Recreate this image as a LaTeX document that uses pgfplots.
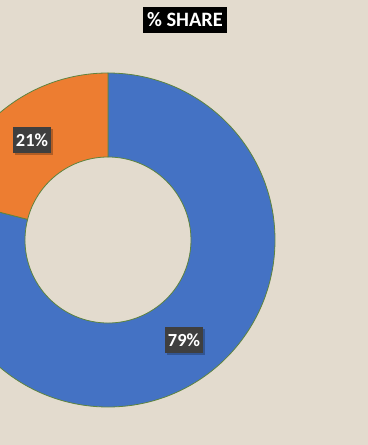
\documentclass[border=0pt]{standalone}
\usepackage{fontspec}
\setmainfont{Carlito}
\usepackage{pgfplots}
\usepackage{pgfplotstable}
\pgfplotsset{compat=1.18}
\usetikzlibrary{calc}
\definecolor{bg}{HTML}{E3DBCE}
\definecolor{sblue}{HTML}{4472C4}
\definecolor{sorange}{HTML}{ED7D31}
\definecolor{sedge}{HTML}{5E8440}
\definecolor{lbl}{HTML}{3F3F3F}
\pgfplotstableread{
name value
B 79
A 21
}\sharedata
\pgfplotstablegetelem{0}{value}\of\sharedata \let\vA\pgfplotsretval
\pgfplotstablegetelem{1}{value}\of\sharedata \let\vB\pgfplotsretval
\pgfmathsetmacro\aA{90-3.6*\vA}
\pgfmathsetmacro\aB{\aA-3.6*\vB}
\begin{document}
\begin{tikzpicture}
\useasboundingbox (0,0) rectangle (368bp,445bp);
\clip (0,0) rectangle (368bp,445bp);
\fill[bg] (0,0) rectangle (368bp,445bp);
\begin{axis}[
  at={(0,0)}, anchor=south west,
  x=1bp, y=1bp, xmin=0, xmax=368, ymin=0, ymax=445,
  hide axis, clip=false,
]
\coordinate (c) at (axis cs:108,205);
\fill[sblue, draw=sedge, line width=0.8bp]
  ($(c)+(90:167bp)$) arc[start angle=90, end angle=\aA, radius=167bp]
  -- ($(c)+(\aA:83bp)$) arc[start angle=\aA, end angle=90, radius=83bp] -- cycle;
\fill[sorange, draw=sedge, line width=0.8bp]
  ($(c)+(\aA:167bp)$) arc[start angle=\aA, end angle=\aB, radius=167bp]
  -- ($(c)+(\aB:83bp)$) arc[start angle=\aB, end angle=\aA, radius=83bp] -- cycle;
\node[fill=black, text=white, font=\bfseries\fontsize{20.5}{22}\selectfont, minimum width=84bp, minimum height=26bp, inner sep=0pt] at (axis cs:185,425) {\% SHARE};
\fill[black, opacity=0.25] (axis cs:15,290) rectangle (axis cs:53,316);
\node[fill=lbl, text=white, font=\bfseries\fontsize{18.5}{20}\selectfont, minimum width=38bp, minimum height=26bp, inner sep=0pt] at (axis cs:32,305) {\vB\%};
\fill[black, opacity=0.25] (axis cs:167,90) rectangle (axis cs:205,116);
\node[fill=lbl, text=white, font=\bfseries\fontsize{18.5}{20}\selectfont, minimum width=38bp, minimum height=26bp, inner sep=0pt] at (axis cs:184,105) {\vA\%};
\end{axis}
\end{tikzpicture}
\end{document}
